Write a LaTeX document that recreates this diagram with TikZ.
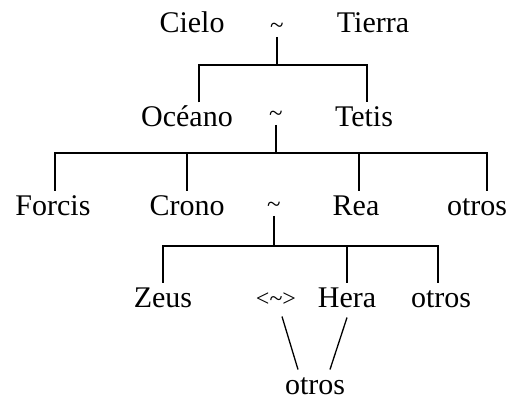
\documentclass[tikz,border=0pt]{standalone}
\usepackage{fontspec}
\setmainfont{Liberation Serif}
\begin{document}
\begin{tikzpicture}[x=1pt, y=-1pt, line width=1.3pt,
	dios/.style={font=\fontsize{30}{36}\selectfont, inner sep=3pt, outer sep=1.5pt, text height=20pt, text depth=4pt, anchor=base},
	union/.style={font=\fontsize{25}{30}\selectfont, inner sep=3pt},
	pareja/.style={font=\fontsize{24}{28}\selectfont, inner sep=3pt, outer sep=1.5pt, text height=20pt, text depth=6pt, anchor=base}]
	\useasboundingbox (0,0) rectangle (530,401);
	%primera generacion
	\node[dios]  (cielo)  at (192,33)  {Cielo};
	\node[union] (u1)     at (277,28)  {\textasciitilde};
	\node[dios]  (tierra) at (373,33)  {Tierra};
	%titanes
	\node[dios]  (oceano) at (187,127) {Océano};
	\node[union] (u2)     at (276,116) {\textasciitilde};
	\node[dios]  (tetis)  at (364,127) {Tetis};
	\node[dios]  (forcis) at (53,215)  {Forcis};
	\node[dios]  (crono)  at (187,215) {Crono};
	\node[union] (u3)     at (274,207) {\textasciitilde};
	\node[dios]  (rea)    at (356,215) {Rea};
	\node[dios]  (otrosA) at (477,215) {otros};
	%olimpicos
	\node[dios]  (zeus)   at (163,307) {Zeus};
	\node[pareja] (u4)    at (276,306) {<\textasciitilde>};
	\node[dios]  (hera)   at (347,307) {Hera};
	\node[dios]  (otrosB) at (441,307) {otros};
	\node[dios]  (otrosC) at (315,394) {otros};
	%barras
	\coordinate (b1) at (277,65);
	\coordinate (b2) at (276,153);
	\coordinate (b3) at (274,246);
	\draw (u1) -- (b1);
	\draw ([xshift=12pt]oceano.north) |- (b1) -| ([xshift=3pt]tetis.north);
	\draw (u2) -- (b2);
	\draw ([xshift=2pt]forcis.north) |- (b2) -| ([xshift=10pt]otrosA.north);
	\draw (crono.north) -- (crono.north |- b2);
	\draw ([xshift=3pt]rea.north) -- ([xshift=3pt]rea.north |- b2);
	\draw (u3) -- (b3);
	\draw (zeus.north) |- (b3) -| ([xshift=-3pt]otrosB.north);
	\draw (hera.north) -- (hera.north |- b3);
	\draw ([xshift=6pt]u4.south) -- ([xshift=-17pt]otrosC.north);
	\draw ([yshift=-2pt]hera.south) -- ([xshift=15pt]otrosC.north);
\end{tikzpicture}
\end{document}
